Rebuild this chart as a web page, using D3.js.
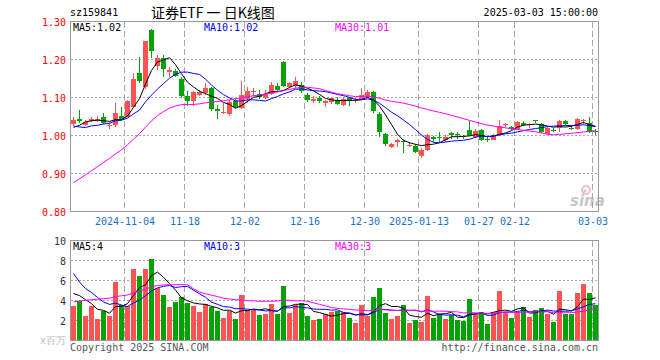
<!DOCTYPE html>
<html><head><meta charset="utf-8">
<script src="https://cdn.jsdelivr.net/npm/d3@7/dist/d3.min.js"></script>
<style>
body{margin:0;background:#fff}
svg{display:block}
text{font-family:"DejaVu Sans Mono",monospace;font-size:10px}
</style>
</head><body>
<svg id="chart" width="660" height="360"></svg>
<script>
// ---------- data ----------
const dates = [
"2024-10-22","2024-10-23","2024-10-24","2024-10-25","2024-10-28","2024-10-29","2024-10-30","2024-10-31","2024-11-01",
"2024-11-04","2024-11-05","2024-11-06","2024-11-07","2024-11-08","2024-11-11","2024-11-12","2024-11-13","2024-11-14","2024-11-15",
"2024-11-18","2024-11-19","2024-11-20","2024-11-21","2024-11-22","2024-11-25","2024-11-26","2024-11-27","2024-11-28","2024-11-29",
"2024-12-02","2024-12-03","2024-12-04","2024-12-05","2024-12-06","2024-12-09","2024-12-10","2024-12-11","2024-12-12","2024-12-13",
"2024-12-16","2024-12-17","2024-12-18","2024-12-19","2024-12-20","2024-12-23","2024-12-24","2024-12-25","2024-12-26","2024-12-27",
"2024-12-30","2024-12-31","2025-01-02","2025-01-03","2025-01-06","2025-01-07","2025-01-08","2025-01-09","2025-01-10",
"2025-01-13","2025-01-14","2025-01-15","2025-01-16","2025-01-17","2025-01-20","2025-01-21","2025-01-22","2025-01-23","2025-01-24",
"2025-01-27","2025-02-05","2025-02-06","2025-02-07","2025-02-10","2025-02-11",
"2025-02-12","2025-02-13","2025-02-14","2025-02-17","2025-02-18","2025-02-19","2025-02-20","2025-02-21","2025-02-24","2025-02-25","2025-02-26","2025-02-27","2025-02-28",
"2025-03-03"];
const openP = [
1.029,1.044,1.0285,1.039,1.039,1.048,1.026,1.0285,1.051,1.0496,
1.076,1.165,1.127,1.2776,1.184,1.203,1.167,1.169,1.148,1.104,
1.092,1.107,1.111,1.124,1.071,1.059,1.057,1.090,1.073,1.095,
1.114,1.110,1.100,1.110,1.130,1.193,1.1285,1.130,1.134,1.1075,
1.090,1.099,1.0864,1.089,1.093,1.081,1.100,1.090,1.097,1.101,
1.115,1.057,1.004,0.969,0.982,0.986,0.974,0.973,0.945,0.962,
0.996,0.997,0.987,1.006,1.004,0.998,1.015,0.997,1.015,0.991,
0.989,1.001,1.028,1.022,1.017,1.032,1.030,1.041,1.031,1.003,
1.015,1.019,1.038,1.021,1.017,1.039,1.032,1.012];
const highP = [
1.048,1.067,1.040,1.050,1.052,1.060,1.036,1.085,1.076,1.093,
1.164,1.207,1.250,1.280,1.212,1.212,1.181,1.176,1.155,1.118,
1.118,1.120,1.137,1.128,1.079,1.085,1.093,1.095,1.144,1.128,
1.126,1.121,1.121,1.141,1.137,1.195,1.141,1.154,1.142,1.111,
1.104,1.104,1.093,1.100,1.101,1.102,1.102,1.100,1.124,1.120,
1.117,1.061,1.007,0.981,0.992,0.990,0.982,0.978,0.967,1.004,
1.000,1.010,1.001,1.010,1.008,1.001,1.037,1.016,1.016,0.996,
1.005,1.041,1.033,1.025,1.038,1.037,1.034,1.042,1.033,1.022,
1.021,1.040,1.040,1.025,1.046,1.044,1.048,1.017];
const lowP = [
1.025,1.033,1.026,1.036,1.035,1.029,1.016,1.022,1.042,1.048,
1.074,1.137,1.122,1.205,1.172,1.155,1.155,1.154,1.100,1.078,
1.078,1.104,1.107,1.065,1.0425,1.057,1.052,1.072,1.069,1.085,
1.104,1.095,1.097,1.107,1.115,1.127,1.124,1.124,1.111,1.088,
1.086,1.085,1.074,1.083,1.079,1.078,1.078,1.085,1.095,1.098,
1.060,0.995,0.973,0.966,0.971,0.955,0.970,0.954,0.942,0.960,
0.984,0.984,0.984,0.992,0.992,0.992,0.999,0.994,0.985,0.984,
0.987,0.999,1.022,1.015,1.014,1.024,1.020,1.034,1.007,1.001,
1.008,1.009,1.028,1.015,1.014,1.030,1.006,1.002];
const closeP = [
1.042,1.037,1.0355,1.044,1.0443,1.034,1.028,1.058,1.044,1.0917,
1.149,1.1425,1.2496,1.2232,1.203,1.176,1.172,1.157,1.104,1.092,
1.1145,1.1145,1.126,1.070,1.064,1.061,1.088,1.074,1.107,1.118,
1.116,1.101,1.108,1.134,1.120,1.130,1.139,1.144,1.116,1.093,
1.095,1.092,1.0917,1.098,1.083,1.097,1.092,1.093,1.106,1.115,
1.064,1.008,0.978,0.978,0.989,0.984,0.976,0.957,0.961,1.001,
0.991,0.995,0.996,1.001,1.001,0.996,1.001,1.013,0.987,0.990,
1.002,1.025,1.029,1.018,1.036,1.028,1.031,1.037,1.009,1.019,
1.014,1.038,1.031,1.020,1.043,1.040,1.008,1.011];
// volume, millions
const volume = [
3.48,3.98,2.48,3.48,2.15,3.0,2.5,5.85,3.55,3.5,
7.15,6.48,7.15,8.15,5.28,4.55,3.35,3.85,4.35,3.75,
3.48,2.85,3.62,3.38,2.98,2.25,2.95,2.15,4.55,3.05,
3.05,2.55,2.68,3.65,2.65,5.48,2.75,3.55,3.75,2.45,
2.05,2.15,2.65,2.88,2.95,2.85,2.25,1.78,3.58,2.45,
4.35,5.25,2.78,2.18,2.45,3.52,1.78,2.05,1.85,4.45,
2.25,2.68,2.18,2.52,2.05,1.98,4.15,2.62,2.85,1.65,
2.85,4.95,2.88,2.25,2.88,3.35,2.35,3.02,3.25,2.65,
1.85,4.95,2.68,2.68,4.75,5.65,4.75,3.55];
// 29 earlier sessions (before the first shown day), used only for the moving averages
const priorClose = [0.745,0.72,0.715,0.72,0.71,0.705,0.71,0.71,0.705,0.70,0.71,0.73,0.733,
  0.78,0.86,0.90,0.998,0.98,1.08,1.125,1.06,1.05,1.00,1.03,1.00,1.01,0.99,1.03,1.035];
const priorVolume = [1.1,1.1,1.1,1.1,1.1,1.1,1.1,1.1,1.1,1.1,1.1,1.1,1.1,
  1.4,2.8,3.0,3.5,4.0,4.5,15.5,12.5,9.0,7.5,7.0,7.5,5.0,4.5,5.5,5.0];
const priceTicks = [0.80,0.90,1.00,1.10,1.20,1.30];
const volumeTicks = [2,4,6,8,10];
const tickDates = ["2024-11-04","2024-11-18","2024-12-02","2024-12-16","2024-12-30","2025-01-13","2025-01-27","2025-02-12","2025-03-03"];
const tickLabels = ["2024-11-04","11-18","12-02","12-16","12-30","2025-01-13","01-27","02-12","03-03"];
const maPeriods = [5,10,30];
const maColors = ["#000000","#0000ff","#ff00ff"];

// ---------- setup ----------
const RED = "#ff5353", GREEN = "#00a400", GRID = "#a8a8a8";
const n = dates.length;
const svg = d3.select("#chart");
const x = d3.scaleLinear().domain([0, n]).range([70, 598]);   // slot left edges
const yP = d3.scaleLinear().domain([0.8, 1.3]).range([211.5, 21.5]);
const yV = d3.scaleLinear().domain([0, 10]).range([340.5, 240.5]);
const cx = i => x(i) + 3.5;

function movingAvg(series, prior, p) {
  const all = prior.concat(series), off = prior.length;
  return series.map((_, i) => d3.mean(all.slice(off + i - p + 1, off + i + 1)));
}

// ---------- header ----------
svg.append("text").attr("x", 70).attr("y", 16).text("sz159841");
svg.append("text").attr("x", 151).attr("y", 18)
  .style("font-family", "'Noto Sans CJK SC',sans-serif").style("font-size", "14px")
  .text("证券ETF 一 日K线图");
svg.append("text").attr("x", 598).attr("y", 16).attr("text-anchor", "end").text("2025-03-03 15:00:00");

// ---------- grids ----------
function panelGrid(yScale, ticks, top, bottom) {
  svg.append("g").selectAll("line").data(ticks).join("line")
    .attr("x1", 71).attr("x2", 598)
    .attr("y1", d => Math.round(yScale(d) - 0.5) + 0.5).attr("y2", d => Math.round(yScale(d) - 0.5) + 0.5)
    .attr("stroke", GRID).attr("stroke-dasharray", "2,2");
  svg.append("g").selectAll("line").data(tickDates).join("line")
    .attr("x1", d => x(dates.indexOf(d)) + 0.5).attr("x2", d => x(dates.indexOf(d)) + 0.5)
    .attr("y1", top).attr("y2", bottom)
    .attr("stroke", GRID).attr("stroke-dasharray", "6,3");
}
panelGrid(yP, [0.9, 1.0, 1.1, 1.2], 22, 211);
panelGrid(yV, [2, 4, 6, 8], 241, 340);

// sina watermark
const wm = svg.append("g").attr("opacity", 0.55);
wm.append("text").attr("x", 570).attr("y", 206).style("font-family", "'DejaVu Sans',sans-serif")
  .style("font-size", "15px").style("font-weight", "bold").style("font-style", "italic")
  .attr("fill", "#999").text("sina");
wm.append("circle").attr("cx", 586).attr("cy", 190).attr("r", 4).attr("fill", "none").attr("stroke", "#e88").attr("stroke-width", 2);
wm.append("circle").attr("cx", 585).attr("cy", 191).attr("r", 1.5).attr("fill", "#999");

// ---------- candles ----------
const up = i => closeP[i] >= openP[i];
const candles = svg.append("g").attr("shape-rendering", "crispEdges");
candles.selectAll("line").data(d3.range(n)).join("line")
  .attr("x1", cx).attr("x2", cx)
  .attr("y1", i => yP(highP[i])).attr("y2", i => yP(lowP[i]))
  .attr("stroke", i => up(i) ? RED : GREEN);
candles.selectAll("rect").data(d3.range(n)).join("rect")
  .attr("x", i => x(i) + 1).attr("width", 5)
  .attr("y", i => yP(Math.max(openP[i], closeP[i])))
  .attr("height", i => Math.max(1, Math.abs(yP(openP[i]) - yP(closeP[i]))))
  .attr("fill", i => up(i) ? RED : GREEN);

// ---------- volume bars ----------
svg.append("g").attr("shape-rendering", "crispEdges")
  .selectAll("rect").data(d3.range(n)).join("rect")
  .attr("x", i => x(i) + 1).attr("width", 5)
  .attr("y", i => yV(volume[i])).attr("height", i => yV(0) - yV(volume[i]))
  .attr("fill", i => up(i) ? RED : GREEN);

// ---------- moving averages ----------
const priceMA = maPeriods.map(p => movingAvg(closeP, priorClose, p));
const volMA = maPeriods.map(p => movingAvg(volume, priorVolume, p));
maPeriods.forEach((p, k) => {
  svg.append("path").datum(priceMA[k])
    .attr("d", d3.line().x((d, i) => cx(i)).y(d => yP(d)))
    .attr("fill", "none").attr("stroke", maColors[k]).attr("stroke-width", 1);
  svg.append("path").datum(volMA[k])
    .attr("d", d3.line().x((d, i) => cx(i)).y(d => yV(d)))
    .attr("fill", "none").attr("stroke", maColors[k]).attr("stroke-width", 1);
});

// ---------- frames ----------
svg.append("rect").attr("x", 70.5).attr("y", 21.5).attr("width", 528).attr("height", 190)
  .attr("fill", "none").attr("stroke", "#999");
svg.append("rect").attr("x", 70.5).attr("y", 240.5).attr("width", 528).attr("height", 100)
  .attr("fill", "none").attr("stroke", "#999");

// ---------- axes labels ----------
svg.append("g").selectAll("text").data(priceTicks).join("text")
  .attr("x", 66).attr("y", d => yP(d) + 4).attr("text-anchor", "end")
  .attr("fill", "#ff0000").text(d => d.toFixed(2));
svg.append("g").selectAll("text").data(volumeTicks).join("text")
  .attr("x", 66).attr("y", d => yV(d) + 4).attr("text-anchor", "end")
  .attr("fill", "#333").text(d => d);
svg.append("text").attr("x", 66).attr("y", 344).attr("text-anchor", "end")
  .attr("fill", "#bbb").text("x百万");
svg.append("g").selectAll("text").data(tickDates).join("text")
  .attr("x", d => x(dates.indexOf(d)) + 1).attr("y", 225).attr("text-anchor", "middle")
  .attr("fill", "#1a72c8").text((d, i) => tickLabels[i]);

// MA legends
const last = n - 1;
const legendX = [73, 204, 335];
maPeriods.forEach((p, k) => {
  svg.append("text").attr("x", legendX[k]).attr("y", 31).attr("fill", maColors[k])
    .text("MA" + p + ":" + priceMA[k][last].toFixed(2));
  svg.append("text").attr("x", legendX[k]).attr("y", 250).attr("fill", maColors[k])
    .text("MA" + p + ":" + Math.floor(volMA[k][last]));
});

// footer
svg.append("text").attr("x", 70).attr("y", 351).attr("fill", "#555").text("Copyright 2025 SINA.COM");
svg.append("text").attr("x", 598).attr("y", 351).attr("text-anchor", "end").attr("fill", "#555").text("http://finance.sina.com.cn");
</script>
</body></html>
